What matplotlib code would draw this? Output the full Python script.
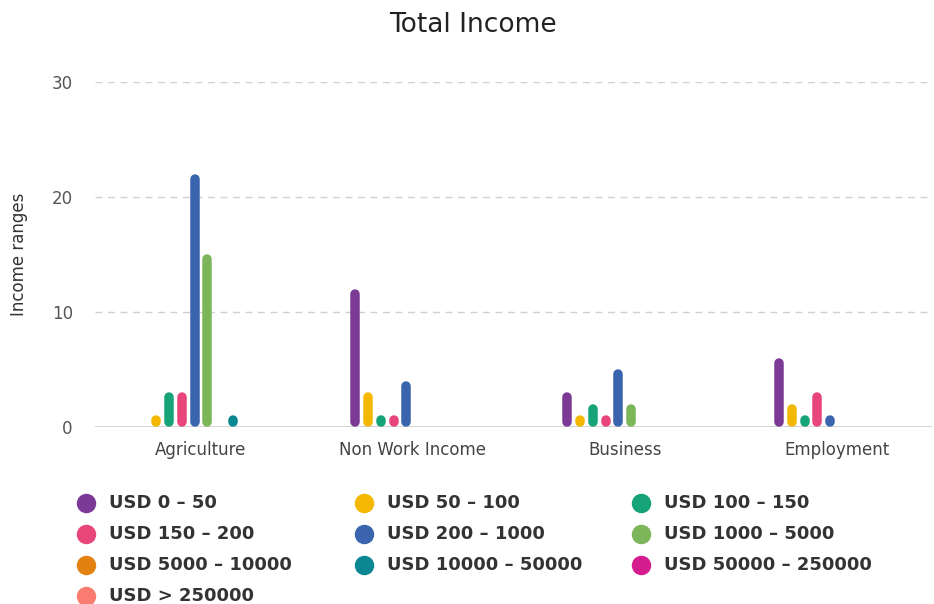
import numpy as np
import matplotlib
matplotlib.use('Agg')
import matplotlib.pyplot as plt
from matplotlib.lines import Line2D

# income sources on the x axis
categories = ['Agriculture', 'Non Work Income', 'Business', 'Employment']

# one series per income bracket, values per category
series_names = ['USD 0 – 50', 'USD 50 – 100', 'USD 100 – 150', 'USD 150 – 200',
                'USD 200 – 1000', 'USD 1000 – 5000', 'USD 5000 – 10000',
                'USD 10000 – 50000', 'USD 50000 – 250000', 'USD > 250000']
usd_0_50 = [0, 12, 3, 6]
usd_50_100 = [1, 3, 1, 2]
usd_100_150 = [3, 1, 2, 1]
usd_150_200 = [3, 1, 1, 3]
usd_200_1000 = [22, 4, 5, 1]
usd_1000_5000 = [15, 0, 2, 0]
usd_5000_10000 = [0, 0, 0, 0]
usd_10000_50000 = [1, 0, 0, 0]
usd_50000_250000 = [0, 0, 0, 0]
usd_over_250000 = [0, 0, 0, 0]

values = [usd_0_50, usd_50_100, usd_100_150, usd_150_200, usd_200_1000,
          usd_1000_5000, usd_5000_10000, usd_10000_50000, usd_50000_250000,
          usd_over_250000]

colors = ['#7C3A97', '#F4B800', '#16A377', '#E8457B', '#3A64AE',
          '#7DB65A', '#E2810F', '#0B8794', '#D41C8F', '#FA7C70']

yticks = [0, 10, 20, 30]

W, H, DPI = 934, 604, 100
fig = plt.figure(figsize=(W / DPI, H / DPI), dpi=DPI)
fig.patch.set_facecolor('white')

left_px, right_px, top_px, bottom_px = 95, 932, 82, 427
ax = fig.add_axes([left_px / W, 1 - bottom_px / H,
                   (right_px - left_px) / W, (bottom_px - top_px) / H])

ax.set_ylim(0, 30)
ax.set_xlim(-0.5, 3.45)

# pill shaped columns: round capped lines running from 0 to the value
bar_px = 9.5
px_per_x = (right_px - left_px) / 3.95
px_per_y = (bottom_px - top_px) / 30
r_y = (bar_px / 2) / px_per_y
step = 12.8 / px_per_x
x = np.arange(len(categories))
for i, (vals, col) in enumerate(zip(values, colors)):
    xs = x + (i - (len(values) - 1) / 2) * step
    for xv, v in zip(xs, vals):
        if v <= 0:
            continue
        y0 = r_y
        y1 = max(v - r_y, y0)
        ax.plot([xv, xv], [y0, y1], color=col, lw=bar_px * 72 / DPI,
                solid_capstyle='round', clip_on=False, zorder=3)

# grid and axes styling
for yv in yticks[1:]:
    ax.axhline(yv, color='#d0d0d0', lw=1, ls=(0, (5, 4)), zorder=1)
ax.axhline(0, color='#cccccc', lw=1.2, zorder=2)
for s in ax.spines.values():
    s.set_visible(False)

ax.set_yticks(yticks)
ax.set_yticklabels([str(t) for t in yticks], fontsize=12, color='#555555')
ax.set_xticks(x)
ax.set_xticklabels(categories, fontsize=12, color='#444444')
ax.tick_params(axis='both', length=0)
ax.tick_params(axis='y', pad=16)
ax.tick_params(axis='x', pad=10)
ax.set_ylabel('Income ranges', fontsize=12, color='#333333', labelpad=17)

fig.text(473 / W, 1 - 25 / H, 'Total Income', ha='center', va='center',
         fontsize=19, color='#222222')

# legend laid out in three equal columns, filled row by row
col_x = [86, 364, 641]
row_y = [503, 534, 565, 596]
for i, (name, col) in enumerate(zip(series_names, colors)):
    cx = col_x[i % 3]
    cy = row_y[i // 3]
    fig.add_artist(Line2D([cx / W], [1 - cy / H], marker='o', markersize=13,
                          color=col, transform=fig.transFigure, linestyle='none'))
    fig.text((cx + 23) / W, 1 - cy / H, name, ha='left', va='center',
             fontsize=13, fontweight='bold', color='#333333')

fig.savefig('out.png', dpi=DPI, facecolor='white')
